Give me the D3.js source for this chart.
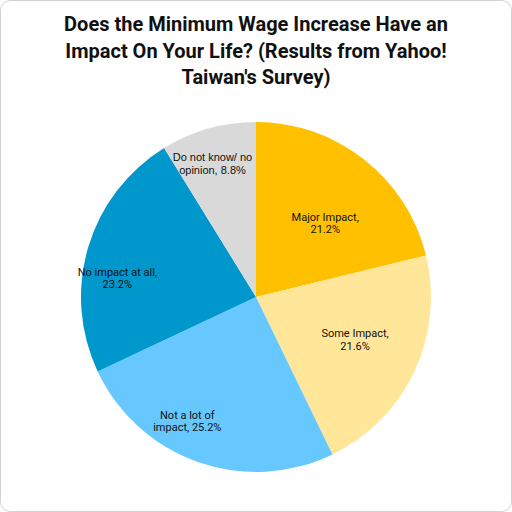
<!DOCTYPE html>
<html><head><meta charset="utf-8">
<script src="https://cdn.jsdelivr.net/npm/d3@7"></script>
<style>html,body{margin:0;padding:0;background:#fff;}</style>
</head><body>
<svg id="chart" width="512" height="512"></svg>
<script>
const categories = ["Major Impact", "Some Impact", "Not a lot of impact", "No impact at all", "Do not know/ no opinion"];
const values = [21.2, 21.6, 25.2, 23.2, 8.8];
const labelLines = [["Major Impact,", "21.2%"], ["Some Impact,", "21.6%"], ["Not a lot of", "impact, 25.2%"], ["No impact at all,", "23.2%"], ["Do not know/ no", "opinion, 8.8%"]];
const colors = ["#FFC000", "#FFE699", "#66C8FF", "#0097CC", "#D9D9D9"];
const titleLines = ["Does the Minimum Wage Increase Have an", "Impact On Your Life? (Results from Yahoo!", "Taiwan's Survey)"];
// label placement: radius fraction and angle (degrees, clockwise from top)
const labelRadius = [0.58, 0.615, 0.81, 0.80, 0.805];
const labelAngle = [43, 113, 209, 278, 342];

const svg = d3.select("#chart");
svg.append("rect").attr("x", 0.5).attr("y", 0.5).attr("width", 511).attr("height", 511)
  .attr("rx", 10).attr("fill", "#fff").attr("stroke", "#d0d0d0");

const t = svg.append("text").attr("text-anchor", "middle")
  .attr("font-family", "Roboto, 'DejaVu Sans', sans-serif").attr("font-weight", "bold")
  .attr("font-size", 20).attr("fill", "#111");
titleLines.forEach((l, i) => t.append("tspan").attr("x", 256).attr("y", 31 + i * 26.5).text(l));

const cx = 256, cy = 297, R = 175;
const pie = d3.pie().sort(null).value(d => d)(values);
const arc = d3.arc().innerRadius(0).outerRadius(R);
const g = svg.append("g").attr("transform", `translate(${cx},${cy})`);
g.selectAll("path").data(pie).enter().append("path")
  .attr("d", arc).attr("fill", (d, i) => colors[i]);

pie.forEach((d, i) => {
  const a = labelAngle[i] * Math.PI / 180, r = labelRadius[i] * R;
  const x = Math.sin(a) * r, y = -Math.cos(a) * r;
  const txt = g.append("text").attr("text-anchor", "middle")
    .attr("font-family", i === 4 ? "'Liberation Sans', Arial, sans-serif" : "Roboto, sans-serif")
    .attr("font-size", 11).attr("fill", "#111");
  labelLines[i].forEach((l, j) => txt.append("tspan").attr("x", x).attr("y", y - 2 + j * 12.5).text(l));
});
</script>
</body></html>
